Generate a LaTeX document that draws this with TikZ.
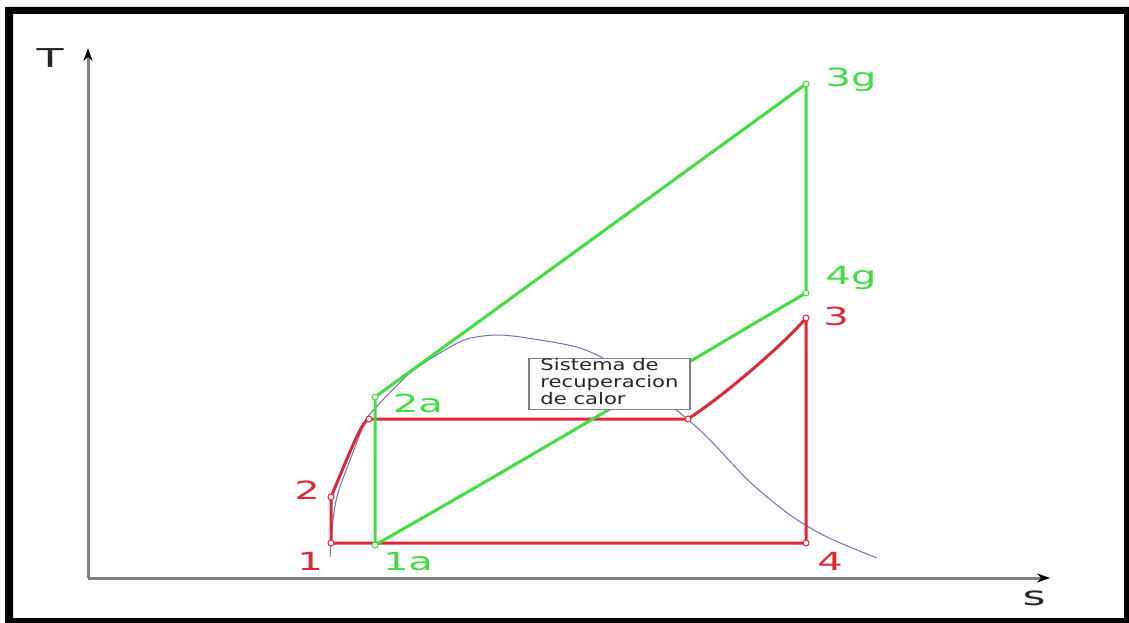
\documentclass[tikz,border=0pt]{standalone}
\usepackage{fontspec}
\usepackage{graphicx}
\setmainfont{DejaVu Sans}
\usetikzlibrary{arrows.meta}
\definecolor{cred}{RGB}{222,40,56}
\definecolor{cgreen}{RGB}{64,222,64}
\definecolor{cblue}{RGB}{110,110,190}
\definecolor{caxis}{RGB}{128,128,128}
\newcommand\widetxt[2]{\scalebox{#1}[1]{#2}}
\begin{document}
\begin{tikzpicture}[x=1pt,y=-1pt,
  redline/.style={draw=cred,line width=3pt,line join=round},
  greenline/.style={draw=cgreen,line width=3pt,line join=round},
  domeline/.style={draw=cblue,line width=1pt},
  axisline/.style={draw=caxis,line width=3pt,-{Stealth[length=13pt,width=9pt,black]}},
  redpt/.style={circle,draw=cred,fill=white,line width=1pt,inner sep=0pt,minimum size=6pt},
  greenpt/.style={circle,draw=cgreen,fill=white,line width=1pt,inner sep=0pt,minimum size=6pt},
  lblr/.style={text=cred,font=\fontsize{25}{25}\selectfont,inner sep=0pt},
  lblg/.style={text=cgreen,font=\fontsize{25}{25}\selectfont,inner sep=0pt},
  axlbl/.style={text=black!85,font=\fontsize{26}{26}\selectfont,inner sep=0pt},
  infobox/.style={draw=caxis,fill=white,line width=1.2pt,minimum width=161pt,minimum height=50pt,inner sep=0pt,font=\fontsize{16}{16.5}\selectfont,text=black!85}
]
\useasboundingbox (0,0) rectangle (1129,623);
% frame
\fill[black,even odd rule] (5,7) rectangle (1129,623) (13,14) rectangle (1124,618);
% axes
\coordinate (O) at (88,578);
\coordinate (Ytop) at (88,48);
\coordinate (Xend) at (1050,578);
\draw[axisline] (O) -- (Ytop);
\draw[axisline] (O) -- (Xend);
\node[axlbl] (T) at (50,58) {\widetxt{1.7}{T}};
\node[axlbl] (S) at (1034,598) {\widetxt{1.7}{s}};
% dome
\draw[domeline] plot[smooth] coordinates {(330,557) (333,520) (338,493) (352,455) (366,420) (380,403) (410,373) (440,353) (467,339) (500,335) (540,340) (580,348) (612,363) (645,386) (685,417) (710,440) (750,482) (790,515) (827,537) (877,558)};
% points
\coordinate (p1) at (331,543);
\coordinate (p2) at (331,497);
\coordinate (pf) at (369,419);
\coordinate (pg) at (688,419);
\coordinate (p3) at (806,318);
\coordinate (p4) at (806,543);
\coordinate (p1a) at (375,545);
\coordinate (p2a) at (375,397);
\coordinate (p3g) at (806,84);
\coordinate (p4g) at (806,293);
% red cycle
\draw[redline] (p1) -- (p2) .. controls (352,447) and (362,421) .. (pf) -- (pg) .. controls (725,395) and (785,343) .. (p3) -- (p4) -- (p1);
% green cycle
\draw[greenline] (p1a) -- (p2a) -- (p3g) -- (p4g);
\draw[greenline] (p4g) .. controls (700,355) and (560,440) .. (p1a);
% info box
\node[infobox] (box) at (609.5,384) {\widetxt{1.32}{\begin{tabular}{@{}l@{}}Sistema de\\[0pt]recuperacion\\[0pt]de calor\end{tabular}}};
% markers
\foreach \p in {p1,p2,pf,pg,p3,p4} \node[redpt] at (\p) {};
\foreach \p in {p1a,p2a,p3g,p4g} \node[greenpt] at (\p) {};
% labels
\node[lblr] (l1) at (310,561) {\widetxt{1.6}{1}};
\node[lblr] (l2) at (307,490) {\widetxt{1.6}{2}};
\node[lblr] (l3) at (836,316) {\widetxt{1.6}{3}};
\node[lblr] (l4) at (830,561) {\widetxt{1.6}{4}};
\node[lblg] (l1a) at (408,562) {\widetxt{1.6}{1a}};
\node[lblg] (l2a) at (418,403) {\widetxt{1.6}{2a}};
\node[lblg] (l3g) at (851,80) {\widetxt{1.6}{3g}};
\node[lblg] (l4g) at (851,278) {\widetxt{1.6}{4g}};
\end{tikzpicture}
\end{document}
